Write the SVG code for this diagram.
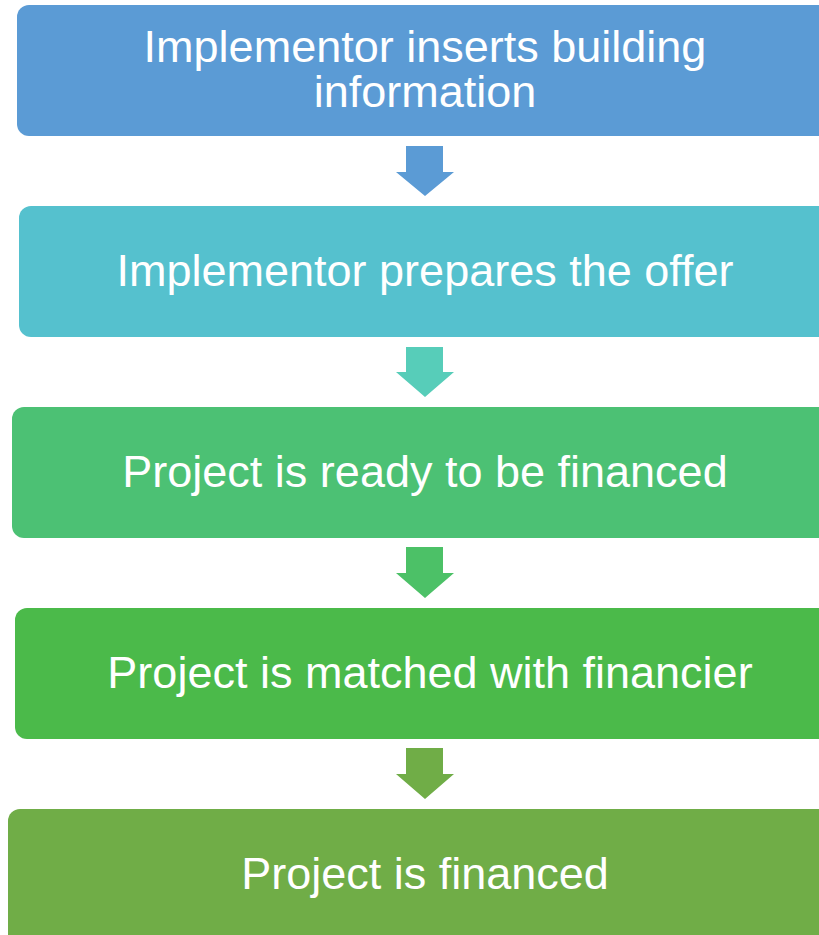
<svg xmlns="http://www.w3.org/2000/svg" width="819" height="935" viewBox="0 0 819 935">
<style>
.box{stroke:none}
.lbl{font-family:"Liberation Sans",Arial,sans-serif;font-size:45px;fill:#ffffff;text-anchor:middle}
</style>
<rect width="819" height="935" fill="#ffffff"/>
<g id="connectors">
<polygon points="406,146 443,146 443,172 454,172 425,196 396,172 406,172" fill="#5B9BD5"/>
<polygon points="406,347 443,347 443,372 454,372 425,397 396,372 406,372" fill="#57CDB9"/>
<polygon points="406,547 443,547 443,573 454,573 425,598 396,573 406,573" fill="#4CC167"/>
<polygon points="406,748 443,748 443,774 454,774 425,799 396,774 406,774" fill="#70AD47"/>
</g>
<g id="node1">
<rect class="box" x="17" y="5" width="830" height="131" rx="12" fill="#5B9BD5"/>
<text class="lbl" x="425" y="62">Implementor inserts building<tspan x="425" dy="45">information</tspan></text>
</g>
<g id="node2">
<rect class="box" x="19" y="206" width="830" height="131" rx="12" fill="#55C1CE"/>
<text class="lbl" x="425" y="286">Implementor prepares the offer</text>
</g>
<g id="node3">
<rect class="box" x="12" y="407" width="830" height="131" rx="12" fill="#4CC174"/>
<text class="lbl" x="425" y="487">Project is ready to be financed</text>
</g>
<g id="node4">
<rect class="box" x="15" y="608" width="830" height="131" rx="12" fill="#4BBA4A"/>
<text class="lbl" x="430" y="688">Project is matched with financier</text>
</g>
<g id="node5">
<rect class="box" x="8" y="809" width="830" height="140" rx="12" fill="#70AD47"/>
<text class="lbl" x="425" y="889">Project is financed</text>
</g>
</svg>
